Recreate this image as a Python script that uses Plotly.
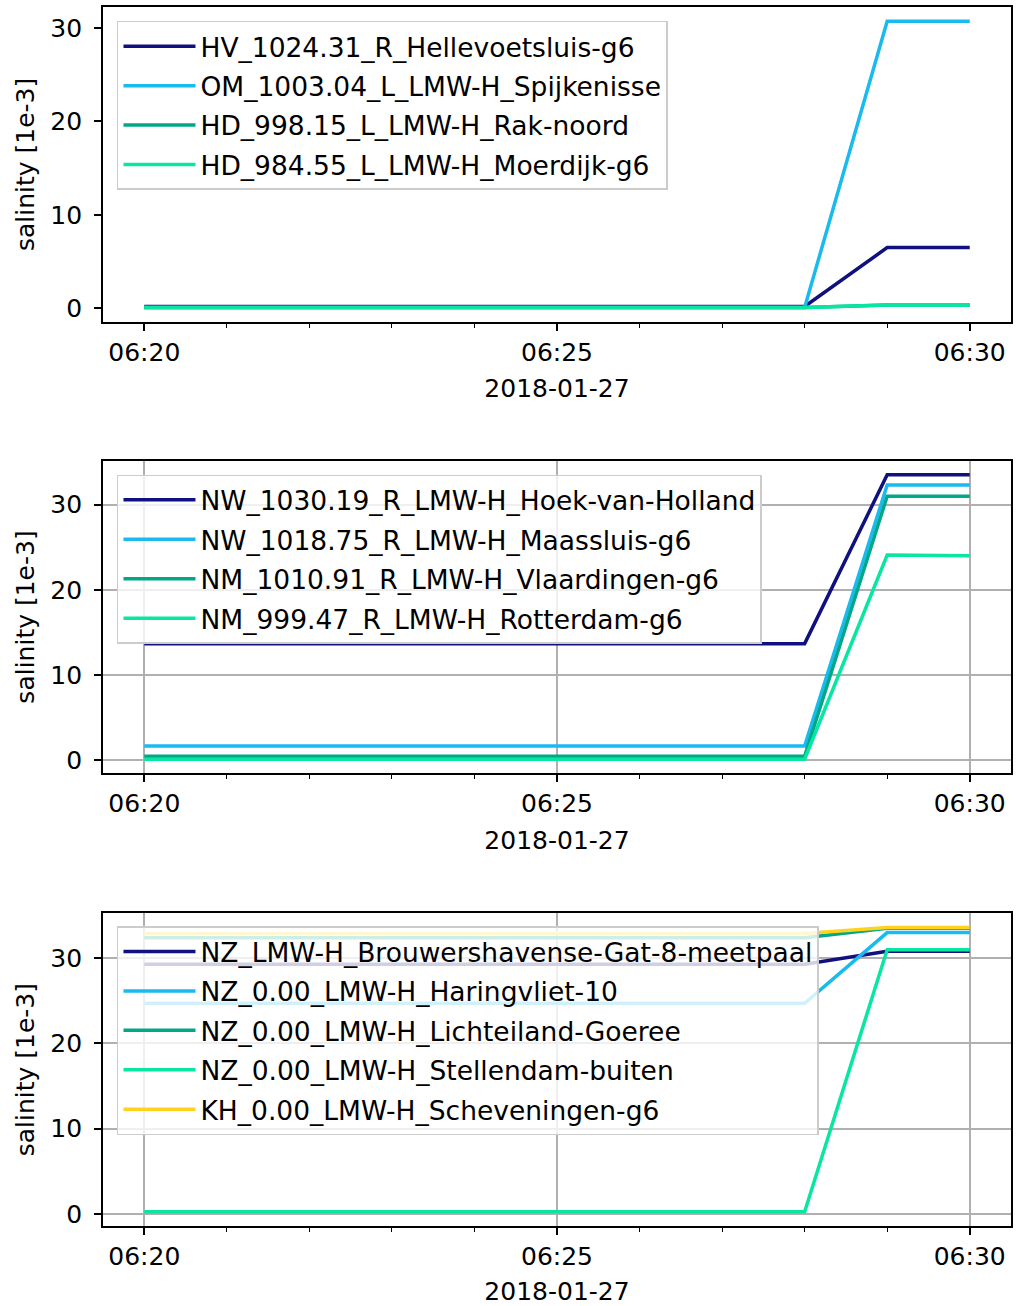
import plotly.graph_objects as go

# ---------------- data ----------------
times = ["2018-01-27 06:%02d:00" % m for m in range(20, 31)]

# panel 1
p1_names = ["HV_1024.31_R_Hellevoetsluis-g6", "OM_1003.04_L_LMW-H_Spijkenisse",
            "HD_998.15_L_LMW-H_Rak-noord", "HD_984.55_L_LMW-H_Moerdijk-g6"]
hv_1024 = [0.2, 0.2, 0.2, 0.2, 0.2, 0.2, 0.2, 0.2, 0.2, 6.5, 6.5]
om_1003 = [0.1, 0.1, 0.1, 0.1, 0.1, 0.1, 0.1, 0.1, 0.1, 30.7, 30.7]
hd_998 = [0.1, 0.1, 0.1, 0.1, 0.1, 0.1, 0.1, 0.1, 0.1, 0.35, 0.35]
hd_984 = [0.1, 0.1, 0.1, 0.1, 0.1, 0.1, 0.1, 0.1, 0.1, 0.35, 0.35]

# panel 2
p2_names = ["NW_1030.19_R_LMW-H_Hoek-van-Holland", "NW_1018.75_R_LMW-H_Maassluis-g6",
            "NM_1010.91_R_LMW-H_Vlaardingen-g6", "NM_999.47_R_LMW-H_Rotterdam-g6"]
nw_1030 = [13.7, 13.7, 13.7, 13.7, 13.7, 13.7, 13.7, 13.7, 13.7, 33.5, 33.5]
nw_1018 = [1.7, 1.7, 1.7, 1.7, 1.7, 1.7, 1.7, 1.7, 1.7, 32.3, 32.3]
nm_1010 = [0.5, 0.5, 0.5, 0.5, 0.5, 0.5, 0.5, 0.5, 0.5, 31.0, 31.0]
nm_999 = [0.15, 0.15, 0.15, 0.15, 0.15, 0.15, 0.15, 0.15, 0.15, 24.1, 24.0]

# panel 3
p3_names = ["NZ_LMW-H_Brouwershavense-Gat-8-meetpaal", "NZ_0.00_LMW-H_Haringvliet-10",
            "NZ_0.00_LMW-H_Lichteiland-Goeree", "NZ_0.00_LMW-H_Stellendam-buiten",
            "KH_0.00_LMW-H_Scheveningen-g6"]
nz_brouw = [29.3, 29.3, 29.3, 29.3, 29.3, 29.3, 29.3, 29.3, 29.3, 30.8, 30.8]
nz_haring = [24.7, 24.7, 24.7, 24.7, 24.7, 24.7, 24.7, 24.7, 24.7, 33.0, 33.0]
nz_licht = [32.4, 32.4, 32.4, 32.4, 32.4, 32.4, 32.4, 32.4, 32.4, 33.5, 33.5]
nz_stellen = [0.25, 0.25, 0.25, 0.25, 0.25, 0.25, 0.25, 0.25, 0.25, 31.0, 31.0]
kh_schev = [32.9, 32.9, 32.9, 32.9, 32.9, 32.9, 32.9, 32.9, 32.9, 33.6, 33.6]

colors4 = ["#10107f", "#18baf0", "#00a888", "#08e6a2"]
colors5 = ["#10107f", "#18baf0", "#00a888", "#08e6a2", "#ffd21f"]

panels = [
    (p1_names, [hv_1024, om_1003, hd_998, hd_984], colors4, False),
    (p2_names, [nw_1030, nw_1018, nm_1010, nm_999], colors4, True),
    (p3_names, [nz_brouw, nz_haring, nz_licht, nz_stellen, kh_schev], colors5, True),
]

FONT = "DejaVu Sans"
FS = 25
LFS = 26.5

W, H = 1017, 1306
ML, MR, MT, MB = 103, 4, 7, 79
PH = H - MT - MB
boxes = [(7, 322), (461, 774), (914, 1227)]
legend_tops = [21, 475, 927]

fig = go.Figure()

for i, (names, series, cols, grid) in enumerate(panels):
    ax = "" if i == 0 else str(i + 1)
    leg = "legend" if i == 0 else "legend%d" % (i + 1)
    allv = [v for s in series for v in s]
    lo, hi = min(allv), max(allv)
    pad = 0.05 * (hi - lo)
    for j, (nm, ys) in enumerate(zip(names, series)):
        fig.add_trace(go.Scatter(
            x=times, y=ys, mode="lines", name=nm,
            line=dict(color=cols[j], width=3.5),
            xaxis="x" + ax, yaxis="y" + ax, legend=leg,
            legendgroup="g%d_%d" % (i, j),
        ))
    top, bot = boxes[i]
    dom = [(H - MB - bot) / PH, (H - MB - top) / PH]
    dom = [max(0, dom[0]), min(1, dom[1])]
    common_axis = dict(
        showline=True, linecolor="black", linewidth=1.8, mirror=True,
        ticks="outside", ticklen=7, tickwidth=1.6, tickcolor="black",
        tickfont=dict(family=FONT, size=FS, color="black"),
        zeroline=False,
    )
    fig.layout["xaxis" + ax] = dict(
        common_axis,
        type="date", anchor="y" + ax,
        range=["2018-01-27 06:19:30", "2018-01-27 06:30:30"],
        tick0="2018-01-27 06:20:00", dtick=300000, tickformat="%H:%M",
        showgrid=grid, gridcolor="#b0b0b0", gridwidth=1.5,
        minor=dict(dtick=60000, tick0="2018-01-27 06:20:00", ticks="outside",
                   ticklen=4, tickwidth=1.3, tickcolor="black", showgrid=False),
        title=dict(text="2018-01-27", font=dict(family=FONT, size=FS, color="black"),
                   standoff=14),
        domain=[0, 1],
    )
    fig.layout["yaxis" + ax] = dict(
        common_axis,
        anchor="x" + ax,
        range=[lo - pad, hi + pad],
        tickvals=[0, 10, 20, 30],
        ticklabelstandoff=7,
        showgrid=grid, gridcolor="#b0b0b0", gridwidth=1.5,
        title=dict(text="salinity [1e-3]", font=dict(family=FONT, size=FS, color="black"),
                   standoff=9),
        domain=dom,
    )
    fig.layout[leg] = dict(
        x=(117 - ML) / (W - ML - MR), y=(H - MB - legend_tops[i]) / PH,
        xanchor="left", yanchor="top",
        bgcolor="rgba(255,255,255,0.8)", bordercolor="#cccccc", borderwidth=1.5,
        font=dict(family=FONT, size=LFS, color="black"),
        itemwidth=72, tracegroupgap=2,
    )

fig.update_layout(
    width=W, height=H,
    margin=dict(l=ML, r=MR, t=MT, b=MB),
    paper_bgcolor="white", plot_bgcolor="white",
    font=dict(family=FONT, size=FS, color="black"),
    showlegend=True,
)

fig.write_html("out.html")
